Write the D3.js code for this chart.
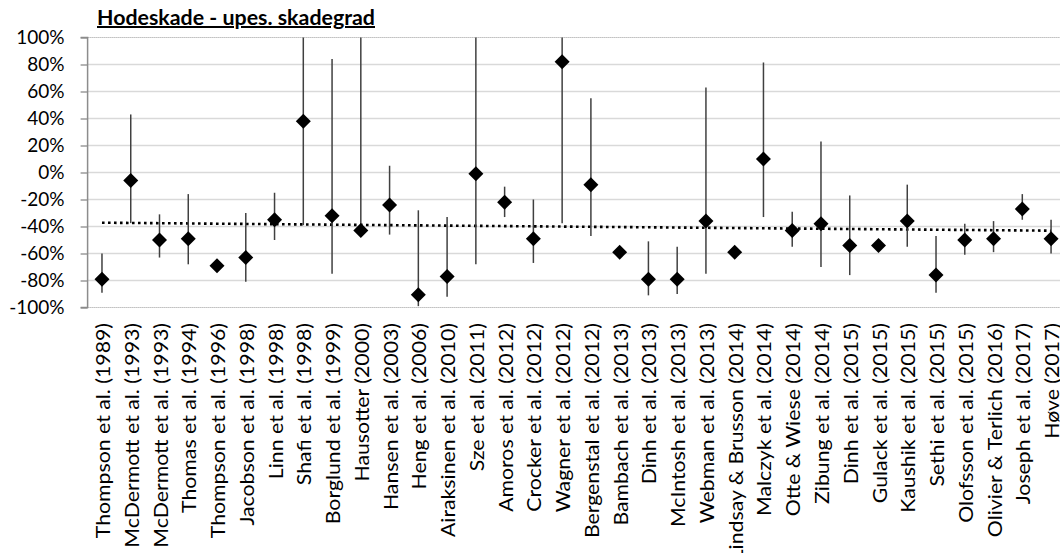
<!DOCTYPE html>
<html><head><meta charset="utf-8">
<script src="https://cdn.jsdelivr.net/npm/d3@7"></script>
<style>
body{margin:0;background:#fff;}
svg text{font-family:Lato,"Open Sans",sans-serif;fill:#000;}
</style></head>
<body><svg id="c" width="1060" height="553"></svg>
<script>
const studies = ["Thompson et al. (1989)","McDermott et al. (1993)","McDermott et al. (1993)","Thomas et al. (1994)","Thompson et al. (1996)","Jacobson et al. (1998)","Linn et al. (1998)","Shafi et al. (1998)","Borglund et al. (1999)","Hausotter (2000)","Hansen et al. (2003)","Heng et al. (2006)","Airaksinen et al. (2010)","Sze et al. (2011)","Amoros et al. (2012)","Crocker et al. (2012)","Wagner et al. (2012)","Bergenstal et al. (2012)","Bambach et al. (2013)","Dinh et al. (2013)","McIntosh et al. (2013)","Webman et al. (2013)","Lindsay & Brusson (2014)","Malczyk et al. (2014)","Otte & Wiese (2014)","Zibung et al. (2014)","Dinh et al. (2015)","Gulack et al. (2015)","Kaushik et al. (2015)","Sethi et al. (2015)","Olofsson et al. (2015)","Olivier & Terlich (2016)","Joseph et al. (2017)","Høve (2017)"];
const estimate = [-79,-6,-50,-49,-69,-63,-35,38,-32,-43,-24,-90.5,-77,-1,-22,-49,82,-9,-59,-79,-79,-36,-59,10,-43,-38,-54,-54,-36,-76,-50,-49,-27,-49];
const lower    = [-89,-37.5,-63,-68,-72,-81,-50,-39,-75,-43,-46,-99,-92,-68,-33,-67,-37.5,-47,-63,-91,-90,-75,-60,-33,-55,-70,-76,-55,-55,-89,-61,-59,-35,-60];
const upper    = [-60,43,-31,-16,-65,-30,-15,100,84,100,5,-28,-33,100,-10.5,-20,100,55,-56,-51,-55,63,-58,81.5,-29,23,-17,-53,-9,-47,-38,-36,-16,-35];
const trendEnds = [-37.2,-43.1];
const yTicks = [-100,-80,-60,-40,-20,0,20,40,60,80,100];
const title = "Hodeskade - upes. skadegrad";

const svg = d3.select("#c");
const left = 87.6, step = 28.76;
const x = d3.scaleBand().domain(d3.range(studies.length)).range([left, left + step*studies.length]).paddingInner(0).paddingOuter(0);
const cx = i => x(i) + x.bandwidth()/2;
const y = d3.scaleLinear().domain([-100,100]).range([307.5,37.5]);
const right = 1060;

// gridlines
svg.append("g").selectAll("line").data(yTicks.filter(t=>t>-100 && t<100)).join("line")
  .attr("x1", left).attr("x2", right).attr("y1", d=>y(d)).attr("y2", d=>y(d))
  .attr("stroke","#d9d9d9").attr("stroke-width",1.3);
// dotted border lines at top and bottom
svg.append("g").selectAll("line").data([-100,100]).join("line")
  .attr("x1", left).attr("x2", right).attr("y1", d=>y(d)).attr("y2", d=>y(d))
  .attr("stroke","#999").attr("stroke-width",1).attr("stroke-dasharray","1,1");

// y axis
const yAxis = d3.axisLeft(y).tickValues(yTicks).tickFormat(d=>d+"%").tickSize(7).tickPadding(16);
const ga = svg.append("g").attr("transform",`translate(${left},0)`).call(yAxis);
ga.select(".domain").attr("stroke","#8c8c8c").attr("stroke-width",1.5).attr("d",`M-7,${y(100)}H0V${y(-100)}H-7`);
ga.selectAll(".tick line").attr("stroke","#8c8c8c").attr("stroke-width",1.3);
ga.selectAll(".tick text").attr("font-size",19).attr("font-family","Lato, sans-serif").attr("fill","#000");

// x labels
svg.append("g").selectAll("text").data(studies).join("text")
  .attr("transform",(d,i)=>`translate(${cx(i)+8},323) rotate(-90) scale(1.12,1)`)
  .attr("text-anchor","end").attr("font-size",19).text(d=>d);

// trendline
svg.append("line")
  .attr("x1", cx(0)).attr("x2", cx(studies.length-1))
  .attr("y1", y(trendEnds[0])).attr("y2", y(trendEnds[1]))
  .attr("stroke","#000").attr("stroke-width",2.6).attr("stroke-dasharray","2.6,3.4");

// error bars
svg.append("g").selectAll("line").data(estimate).join("line")
  .attr("x1",(d,i)=>cx(i)).attr("x2",(d,i)=>cx(i))
  .attr("y1",(d,i)=>y(upper[i])).attr("y2",(d,i)=>y(lower[i]))
  .attr("stroke","#404040").attr("stroke-width",1.5);

// diamonds
const r = 7.5;
svg.append("g").selectAll("path").data(estimate).join("path")
  .attr("d",(d,i)=>{const px=cx(i), py=y(d); return `M${px},${py-r}L${px+r},${py}L${px},${py+r}L${px-r},${py}Z`;})
  .attr("fill","#000");

// title
svg.append("text").attr("x",97).attr("y",25)
  .attr("font-size",20).attr("font-weight","bold").attr("text-decoration","underline")
  .attr("textLength",278).attr("lengthAdjust","spacingAndGlyphs").text(title);
</script></body></html>
